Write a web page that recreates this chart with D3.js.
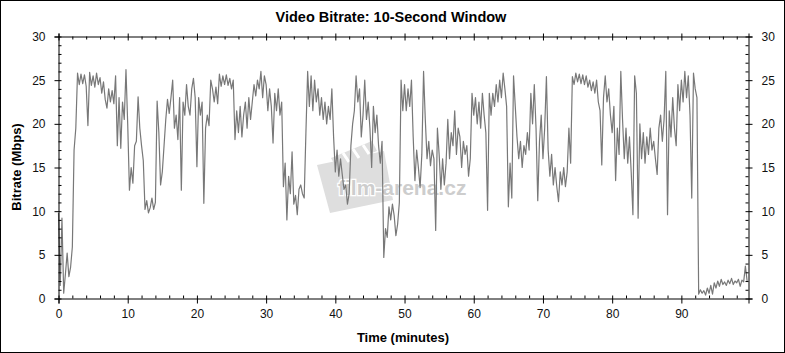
<!DOCTYPE html>
<html>
<head>
<meta charset="utf-8">
<script src="https://cdn.jsdelivr.net/npm/d3@7"></script>
<style>
  body { margin: 0; background: #fff; }
  text { font-family: Arial, "Liberation Sans", sans-serif; }
</style>
</head>
<body>
<svg id="chart" width="785" height="353"></svg>
<script>
// Video bitrate (Mbps), one reading every 15 seconds
const stepMinutes = 0.25;
const bitrate = [
  9.8, 1.5, 9.2, 0.6, 2.8, 5.2, 2.5, 3.6, 5.9, 17.0, 19.5, 25.8, 24.5, 25.7, 24.6, 25.6, 24.3, 19.8, 25.9, 24.4,   // 0-5
  25.5, 24.2, 25.8, 24.5, 25.3, 23.5, 24.8, 22.8, 21.8, 24.0, 22.5, 23.8, 22.3, 25.5, 17.5, 23.0, 17.2, 22.5, 20.5, 26.2, // 5-10
  20.0, 12.4, 15.0, 13.2, 17.5, 18.0, 23.1, 19.5, 17.5, 15.8, 10.2, 11.2, 9.8, 10.4, 11.5, 10.2, 11.0, 22.6, 19.0, 13.0, // 10-15
  14.5, 17.5, 20.5, 22.8, 21.2, 23.0, 25.0, 19.5, 21.0, 18.2, 23.0, 12.4, 22.5, 21.0, 24.5, 22.0, 21.0, 24.0, 25.2, 23.0, // 15-20
  15.1, 23.0, 21.0, 22.5, 10.9, 19.5, 21.0, 19.8, 25.0, 24.0, 22.5, 24.2, 22.3, 25.7, 24.3, 25.5, 24.5, 25.6, 24.4, 25.2, // 20-25
  24.0, 25.0, 18.2, 21.5, 19.0, 22.0, 18.5, 21.0, 22.5, 19.5, 23.0, 20.5, 22.5, 24.5, 23.2, 25.0, 24.0, 26.0, 23.0, 25.5, // 25-30
  24.5, 21.5, 24.0, 22.0, 17.8, 23.5, 21.5, 24.0, 21.0, 22.5, 12.8, 15.5, 9.0, 14.0, 12.0, 16.8, 10.8, 11.8, 9.6, 12.5,   // 30-35
  13.0, 12.0, 11.5, 19.0, 26.0, 22.0, 25.5, 21.5, 25.0, 22.5, 24.0, 21.0, 23.0, 20.5, 22.5, 20.0, 22.0, 20.5, 24.0, 18.5, // 35-40
  14.5, 17.0, 14.0, 16.0, 14.2, 12.5, 13.0, 10.8, 12.0, 17.5, 20.0, 21.5, 25.5, 22.5, 24.0, 18.5, 21.0, 25.0, 20.5, 22.5, // 40-45
  19.5, 15.0, 22.0, 19.0, 21.0, 17.5, 15.5, 18.0, 4.7, 8.0, 7.0, 10.5, 9.0, 10.8, 9.5, 7.2, 8.5, 11.0, 25.0, 21.5,       // 45-50
  24.5, 21.5, 24.0, 22.0, 25.0, 18.5, 13.5, 17.0, 15.0, 12.7, 16.5, 26.0, 20.5, 16.0, 18.0, 15.2, 17.0, 16.0, 7.8, 19.5, // 50-55
  16.5, 12.5, 16.0, 13.0, 15.5, 20.5, 16.0, 19.0, 17.5, 21.5, 16.5, 19.5, 18.5, 15.0, 18.0, 16.5, 17.5, 14.0, 16.0, 23.5, // 55-60
  21.0, 23.0, 20.0, 22.5, 19.5, 23.5, 21.0, 19.0, 10.1, 23.5, 21.0, 23.5, 22.0, 24.5, 22.5, 25.0, 23.0, 25.8, 24.0, 22.0, // 60-65
  10.5, 15.5, 11.5, 25.5, 22.0, 18.5, 16.0, 18.0, 15.0, 17.5, 16.5, 19.0, 17.0, 23.5, 20.0, 24.5, 19.5, 11.2, 18.0, 21.0, // 65-70
  16.0, 19.5, 25.4, 17.0, 14.0, 16.5, 13.0, 15.0, 12.8, 11.1, 14.5, 13.0, 15.0, 12.8, 14.5, 19.5, 15.5, 25.4, 24.5, 25.8, // 70-75
  24.8, 25.7, 24.6, 25.6, 24.5, 25.5, 24.2, 25.0, 23.8, 24.8, 23.5, 25.0, 22.5, 21.5, 15.3, 23.0, 25.5, 22.5, 24.0, 21.0, // 75-80
  19.0, 22.0, 13.5, 19.5, 16.5, 26.0, 20.5, 16.0, 19.5, 15.5, 18.5, 14.5, 9.6, 25.5, 23.5, 9.2, 20.0, 16.0, 19.0, 15.5,   // 80-85
  18.5, 16.5, 19.5, 17.0, 18.0, 16.0, 14.2, 19.5, 21.0, 18.0, 20.5, 26.0, 9.6, 21.5, 18.5, 23.0, 19.5, 17.5, 24.5, 21.5,  // 85-90
  25.0, 22.5, 26.0, 23.0, 25.5, 21.0, 11.5, 25.8, 24.0, 23.0, 0.5, 1.0, 0.6, 0.9, 0.4, 1.2, 0.6, 1.5, 0.5, 1.8,          // 90-95
  1.2, 2.0, 1.4, 2.2, 1.6, 1.9, 1.5, 2.1, 1.7, 2.3, 1.6, 2.0, 1.8, 2.2, 1.4, 2.1, 1.9, 3.7, 2.0                          // 95-100
];

const xTicks = [0, 10, 20, 30, 40, 50, 60, 70, 80, 90];
const yTicks = [0, 5, 10, 15, 20, 25, 30];
const xMinorStep = 2;
const yMinorStep = 1;

const svg = d3.select("#chart");
const W = 785, H = 353;

// outer frame
svg.append("rect")
    .attr("x", 0.5).attr("y", 0.5)
    .attr("width", W - 1).attr("height", H - 1)
    .attr("fill", "#fff")
    .attr("stroke", "#000");

var x = d3.scaleLinear().domain([0, 99.7]).range([58.5, 748.5]);
var y = d3.scaleLinear().domain([0, 30]).range([298.5, 36.5]);

// watermark (sits under the line)
var wm = svg.append("g");
wm.append("path")
    .attr("d", "M317,165 L384,151 L393,200 L330,213 Z")
    .attr("fill", "#dedede");
wm.append("path")
    .attr("d", "M331,158 L372,141 L377,151 L336,167 Z")
    .attr("fill", "#dedede");
wm.selectAll("line.stripe")
    .data([0, 1, 2])
    .join("line")
    .attr("x1", (d, i) => 343 + i * 10).attr("y1", (d, i) => 153 - i * 4)
    .attr("x2", (d, i) => 349 + i * 10).attr("y2", (d, i) => 162 - i * 4)
    .attr("stroke", "#fff").attr("stroke-width", 3);
wm.append("text")
    .attr("x", 338).attr("y", 195)
    .attr("font-size", 21).attr("font-weight", "bold")
    .attr("fill", "#cdcdcd")
    .attr("stroke", "#fff").attr("stroke-width", 2.5)
    .attr("paint-order", "stroke")
    .text("film-arena.cz");

// bitrate line
var line = d3.line()
    .x((d, i) => x(i * stepMinutes))
    .y(d => y(d));

svg.append("path")
    .datum(bitrate)
    .attr("fill", "none")
    .attr("stroke", "#787878")
    .attr("stroke-width", 1.2)
    .attr("stroke-linejoin", "round")
    .attr("d", line);

// axes
const xMinor = d3.range(0, 100, xMinorStep).filter(v => v % 10 != 0);
const yMinor = d3.range(0, 30, yMinorStep).filter(v => v % 5 != 0);

function styleAxis(g) {
    g.select(".domain").attr("stroke", "#000");
    g.selectAll(".tick line").attr("stroke", "#000");
    g.selectAll("text")
        .attr("font-size", 12)
        .attr("fill", "#111")
        .attr("font-family", "Arial, 'Liberation Sans', sans-serif");
}

// bottom
svg.append("g")
    .attr("transform", `translate(0,${y(0)})`)
    .call(d3.axisBottom(x).tickValues(xTicks).tickSizeOuter(0).tickSize(5).tickPadding(6))
    .call(styleAxis)
    .call(g => g.selectAll(".tick line").attr("y1", -3));
svg.append("g")
    .attr("transform", `translate(0,${y(0)})`)
    .call(d3.axisTop(x).tickValues(xMinor).tickSizeOuter(0).tickSize(3).tickFormat(""))
    .call(styleAxis)
    .call(g => g.select(".domain").remove());

// top
svg.append("g")
    .attr("transform", `translate(0,${y(30)})`)
    .call(d3.axisTop(x).tickValues(xTicks).tickSizeOuter(0).tickSize(3).tickFormat(""))
    .call(styleAxis)
    .call(g => g.selectAll(".tick line").attr("y1", -3).attr("y2", 4));
svg.append("g")
    .attr("transform", `translate(0,${y(30)})`)
    .call(d3.axisBottom(x).tickValues(xMinor).tickSizeOuter(0).tickSize(3).tickFormat(""))
    .call(styleAxis)
    .call(g => g.select(".domain").remove());

// left
svg.append("g")
    .attr("transform", `translate(${x(0)},0)`)
    .call(d3.axisLeft(y).tickValues(yTicks).tickSizeOuter(0).tickSize(4).tickPadding(9))
    .call(styleAxis)
    .call(g => g.selectAll(".tick line").attr("x1", 3));
svg.append("g")
    .attr("transform", `translate(${x(0)},0)`)
    .call(d3.axisRight(y).tickValues(yMinor).tickSizeOuter(0).tickSize(3).tickFormat(""))
    .call(styleAxis)
    .call(g => g.select(".domain").remove());

// right
svg.append("g")
    .attr("transform", `translate(${x(99.7)},0)`)
    .call(d3.axisRight(y).tickValues(yTicks).tickSizeOuter(0).tickSize(4).tickPadding(9))
    .call(styleAxis)
    .call(g => g.selectAll(".tick line").attr("x1", -3));
svg.append("g")
    .attr("transform", `translate(${x(99.7)},0)`)
    .call(d3.axisLeft(y).tickValues(yMinor).tickSizeOuter(0).tickSize(3).tickFormat(""))
    .call(styleAxis)
    .call(g => g.select(".domain").remove());

// title and axis labels
svg.append("text")
    .attr("x", 391).attr("y", 22)
    .attr("text-anchor", "middle")
    .attr("font-size", 14.5).attr("font-weight", "bold")
    .text("Video Bitrate: 10-Second Window");

svg.append("text")
    .attr("x", 403).attr("y", 342)
    .attr("text-anchor", "middle")
    .attr("font-size", 13).attr("font-weight", "bold")
    .text("Time (minutes)");

svg.append("text")
    .attr("transform", "rotate(-90)")
    .attr("x", -167).attr("y", 21)
    .attr("text-anchor", "middle")
    .attr("font-size", 13).attr("font-weight", "bold")
    .text("Bitrate (Mbps)");
</script>
</body>
</html>
